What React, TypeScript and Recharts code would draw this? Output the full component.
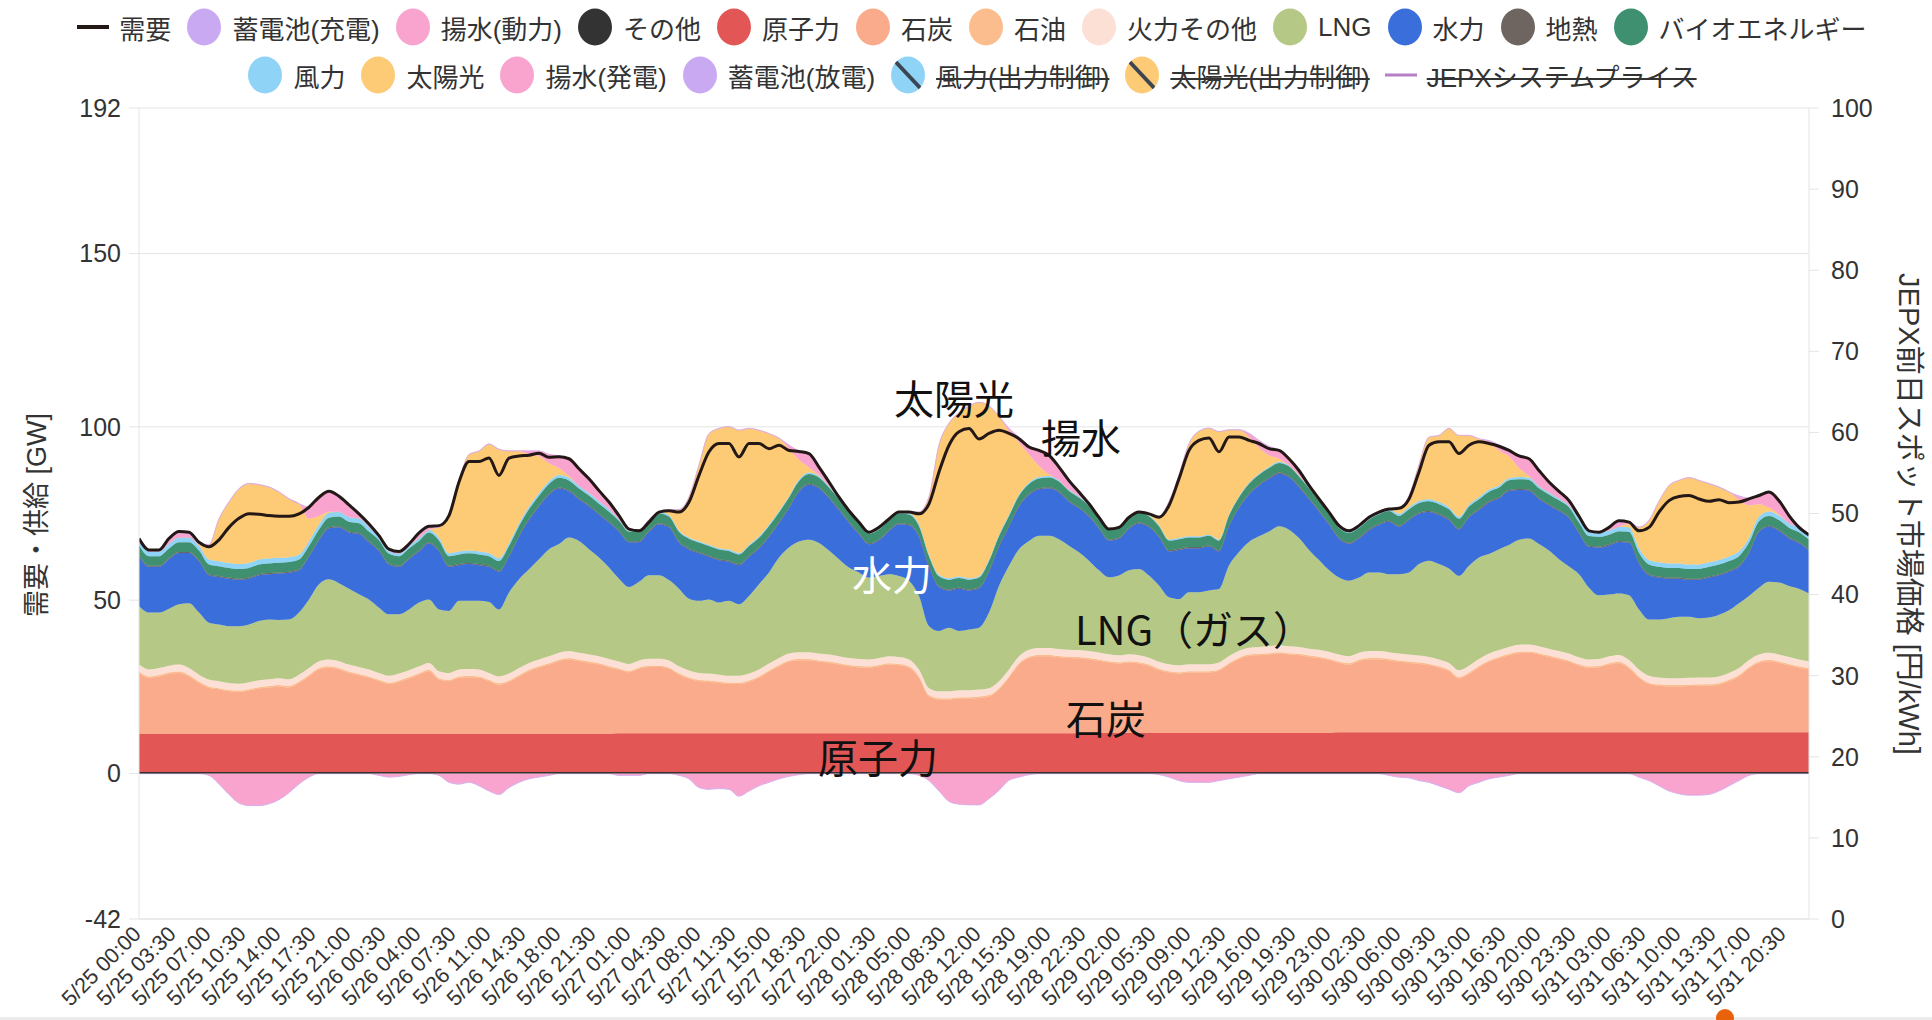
import { Area, CartesianGrid, ComposedChart, Line, XAxis, YAxis } from "recharts";

// Weekly supply/demand stack (GW), hourly readings 5/25 00:00 – 5/31 23:00.
// The x axis runs in half-hour slots so the 3.5 h tick labels land on :30 marks.

const FONT = "'Liberation Sans', Arial, 'Noto Sans CJK JP', sans-serif";
const JP_FONT = "'Noto Sans CJK JP', 'Liberation Sans', sans-serif";

const TICK_LABELS = [
  "5/25 00:00", "5/25 03:30", "5/25 07:00", "5/25 10:30", "5/25 14:00", "5/25 17:30", "5/25 21:00",
  "5/26 00:30", "5/26 04:00", "5/26 07:30", "5/26 11:00", "5/26 14:30", "5/26 18:00", "5/26 21:30",
  "5/27 01:00", "5/27 04:30", "5/27 08:00", "5/27 11:30", "5/27 15:00", "5/27 18:30", "5/27 22:00",
  "5/28 01:30", "5/28 05:00", "5/28 08:30", "5/28 12:00", "5/28 15:30", "5/28 19:00", "5/28 22:30",
  "5/29 02:00", "5/29 05:30", "5/29 09:00", "5/29 12:30", "5/29 16:00", "5/29 19:30", "5/29 23:00",
  "5/30 02:30", "5/30 06:00", "5/30 09:30", "5/30 13:00", "5/30 16:30", "5/30 20:00", "5/30 23:30",
  "5/31 03:00", "5/31 06:30", "5/31 10:00", "5/31 13:30", "5/31 17:00", "5/31 20:30",
];
const SLOTS_PER_TICK = 7;
const LEFT_TICKS = [-42, 0, 50, 100, 150, 192];
const RIGHT_TICKS = [0, 10, 20, 30, 40, 50, 60, 70, 80, 90, 100];

// one row per day, 24 hourly values
const DEMAND = [
  67.8, 64.5, 64.5, 67.8, 69.8, 69.6, 66.7, 65.4, 67.4, 71.0, 73.6, 74.9, 74.8, 74.4, 74.2, 74.2, 74.9, 76.8, 79.7, 81.4, 80.0, 77.5, 74.9, 72.0,
  68.6, 64.7, 64.0, 66.2, 69.4, 71.3, 71.5, 74.4, 84.1, 90.0, 90.0, 91.0, 86.0, 91.0, 91.6, 91.8, 92.4, 91.2, 91.4, 90.8, 87.9, 85.0, 81.6, 78.3,
  74.4, 70.5, 70.0, 72.5, 75.4, 75.8, 75.4, 78.3, 86.0, 92.8, 95.2, 95.2, 91.3, 95.2, 95.2, 93.7, 94.7, 93.2, 92.9, 92.3, 88.4, 84.1, 79.7, 75.8,
  72.5, 69.6, 71.0, 73.4, 75.4, 75.4, 74.9, 77.8, 87.0, 94.7, 98.6, 99.5, 96.5, 98.1, 99.0, 98.1, 96.6, 94.2, 93.2, 91.8, 88.4, 84.5, 81.2, 77.8,
  73.9, 70.5, 71.0, 73.9, 75.4, 74.9, 73.9, 77.3, 85.0, 93.2, 96.1, 96.8, 92.8, 97.1, 97.1, 96.1, 95.2, 93.7, 93.2, 90.8, 87.4, 83.1, 79.2, 75.4,
  71.5, 70.0, 71.5, 73.9, 75.4, 76.3, 76.5, 79.2, 87.0, 94.7, 95.7, 95.7, 92.3, 94.7, 95.7, 95.2, 94.4, 93.2, 91.6, 90.8, 87.4, 84.1, 81.4, 78.7,
  74.2, 70.0, 69.6, 71.0, 72.9, 72.5, 70.0, 71.0, 75.4, 78.7, 79.9, 80.2, 79.2, 78.5, 79.0, 78.1, 78.3, 79.2, 80.2, 81.2, 78.7, 74.4, 71.0, 68.8,
];

const COAL = [
  17.6, 16.2, 16.6, 17.3, 17.6, 16.6, 14.7, 13.3, 12.8, 12.3, 12.1, 12.5, 13.1, 13.4, 13.7, 13.4, 14.7, 16.6, 18.6, 19.1, 18.6, 17.6, 16.9, 16.2,
  15.2, 14.4, 15.0, 16.0, 17.1, 18.1, 15.7, 15.2, 16.2, 16.3, 16.2, 15.2, 14.2, 15.0, 16.6, 18.1, 19.1, 20.0, 21.0, 21.5, 21.0, 20.5, 20.0, 19.2,
  18.3, 17.6, 18.6, 19.1, 19.1, 18.6, 16.9, 15.7, 15.0, 14.8, 14.5, 14.2, 14.2, 14.8, 16.0, 17.7, 19.3, 20.6, 21.0, 21.0, 20.6, 20.3, 19.8, 19.3,
  19.0, 18.9, 19.3, 19.8, 19.6, 18.9, 16.0, 10.6, 9.7, 9.7, 10.0, 10.0, 10.2, 10.6, 12.6, 16.0, 19.8, 21.7, 22.2, 22.2, 21.9, 21.7, 21.6, 21.3,
  20.8, 20.3, 20.0, 20.3, 20.0, 19.3, 18.1, 17.4, 17.1, 17.4, 17.4, 17.4, 17.9, 19.8, 21.3, 22.2, 22.4, 22.6, 22.9, 22.6, 22.4, 21.9, 21.6, 21.0,
  20.0, 19.5, 20.5, 21.0, 21.0, 20.7, 20.3, 20.0, 19.7, 19.3, 18.6, 17.6, 15.5, 16.8, 18.7, 20.3, 21.3, 22.2, 22.8, 22.9, 22.4, 21.7, 21.0, 20.3,
  19.2, 18.6, 18.7, 19.5, 19.9, 18.4, 15.7, 13.9, 13.4, 13.2, 13.2, 13.3, 13.4, 13.4, 13.7, 14.7, 16.1, 18.4, 20.0, 20.5, 20.0, 19.3, 18.6, 18.1,
];

const LNG = [
  16.9, 16.4, 16.0, 16.4, 17.4, 18.7, 17.9, 16.4, 16.4, 16.4, 16.6, 16.7, 17.1, 17.2, 16.8, 17.2, 17.9, 19.8, 22.2, 23.1, 22.5, 21.9, 21.0, 20.2,
  18.8, 17.7, 17.1, 17.5, 18.4, 18.3, 17.8, 17.9, 19.8, 19.7, 19.8, 20.5, 19.3, 23.4, 25.6, 27.0, 28.9, 30.9, 31.4, 32.8, 32.3, 30.4, 28.5, 26.4,
  23.9, 22.2, 22.7, 24.1, 24.1, 23.2, 22.4, 20.7, 20.8, 21.4, 20.8, 21.6, 20.6, 22.4, 24.6, 26.3, 29.0, 30.6, 31.9, 32.4, 31.9, 30.0, 28.0, 26.1,
  25.0, 23.6, 23.7, 23.7, 23.4, 22.7, 21.2, 17.9, 17.4, 18.3, 17.1, 17.5, 17.8, 21.8, 27.5, 29.9, 30.9, 31.4, 32.4, 32.4, 31.7, 30.0, 28.2, 26.1,
  23.7, 22.2, 23.0, 24.2, 24.9, 23.7, 22.0, 19.3, 19.1, 20.8, 20.8, 21.3, 21.2, 26.1, 28.5, 30.5, 31.9, 33.1, 34.3, 33.6, 31.4, 28.5, 25.9, 23.6,
  22.2, 21.8, 21.7, 22.7, 22.7, 22.5, 22.9, 23.7, 26.4, 27.8, 27.5, 27.2, 27.2, 28.8, 29.3, 28.7, 29.1, 29.4, 30.3, 30.6, 29.5, 28.3, 26.5, 25.1,
  24.0, 20.7, 18.4, 17.8, 17.7, 18.7, 17.3, 16.2, 16.7, 17.3, 17.7, 17.6, 17.1, 17.3, 17.8, 18.1, 18.7, 18.5, 19.3, 20.5, 20.8, 20.5, 20.4, 19.5,
];

const HYDRO = [
  14.5, 13.2, 13.2, 14.3, 14.8, 14.5, 14.8, 13.7, 13.7, 13.7, 13.4, 13.2, 13.2, 13.1, 13.4, 13.5, 12.2, 12.3, 12.7, 14.7, 16.1, 16.2, 17.4, 16.5,
  16.4, 14.4, 13.7, 14.5, 14.7, 16.2, 16.8, 12.7, 10.3, 10.6, 10.3, 10.1, 10.9, 10.3, 12.3, 14.2, 15.2, 15.7, 16.0, 13.3, 12.0, 12.4, 12.4, 13.0,
  13.6, 12.9, 11.4, 12.5, 14.7, 15.2, 13.3, 14.2, 13.7, 12.3, 12.2, 11.3, 11.3, 11.3, 10.3, 10.3, 9.9, 11.3, 14.4, 15.9, 15.8, 15.1, 14.2, 12.9,
  11.0, 9.6, 10.3, 12.4, 14.9, 16.0, 17.1, 17.1, 12.7, 10.8, 12.2, 11.3, 11.4, 11.8, 11.3, 11.3, 12.3, 13.3, 13.4, 13.7, 13.5, 12.7, 12.7, 12.7,
  12.0, 10.6, 10.6, 12.0, 13.1, 14.0, 14.0, 13.3, 14.2, 12.7, 12.7, 12.7, 10.9, 11.3, 12.7, 13.7, 14.7, 15.2, 15.2, 15.2, 14.7, 14.7, 14.0, 13.1,
  11.3, 10.7, 11.3, 12.2, 13.7, 15.1, 13.7, 15.1, 14.5, 14.0, 14.2, 14.0, 13.4, 14.0, 13.7, 14.9, 14.7, 15.6, 14.4, 13.8, 13.0, 13.1, 13.9, 14.0,
  11.8, 11.8, 13.8, 14.2, 14.9, 15.2, 13.3, 12.8, 12.1, 11.4, 11.0, 10.7, 11.1, 11.5, 11.4, 11.1, 10.5, 12.3, 16.1, 15.9, 14.9, 13.7, 13.2, 12.5,
];

const SOLAR = [
  0, 0, 0, 0, 0, 0, 0.5, 4.3, 12.2, 17.6, 21.7, 22.9, 21.6, 20.6, 19.0, 16.8, 14.7, 6.5, 2.5, 0.3, 0, 0, 0, 0,
  0, 0, 0, 0, 0, 0, 3.0, 11.5, 20.5, 27.7, 29.0, 31.5, 31.4, 26.6, 20.8, 15.0, 10.6, 5.2, 2.0, 0.5, 0, 0, 0, 0,
  0, 0, 0, 0, 0, 1.5, 6.0, 11.6, 22.0, 32.0, 34.5, 35.4, 35.4, 33.5, 30.6, 26.2, 21.0, 13.7, 5.7, 1.5, 0.3, 0, 0, 0,
  0, 0, 0, 0, 0, 0.3, 3.6, 16.7, 37.4, 44.7, 47.2, 49.7, 50.1, 44.3, 34.1, 24.0, 15.0, 8.1, 3.2, 0.5, 0, 0, 0, 0,
  0, 0, 0, 0, 0, 0.3, 2.5, 10.9, 18.2, 26.7, 30.3, 30.7, 31.1, 24.4, 19.1, 13.2, 7.5, 3.4, 0.9, 0, 0, 0, 0, 0,
  0, 0, 0, 0, 0, 0, 1.5, 3.2, 10.4, 17.9, 19.2, 22.7, 23.4, 19.9, 16.8, 13.6, 10.1, 6.3, 2.6, 0.5, 0, 0, 0, 0,
  0, 0, 0, 0, 0, 1.0, 6.0, 11.4, 17.6, 22.4, 23.9, 25.0, 24.2, 22.7, 21.0, 18.6, 15.0, 9.5, 3.6, 1.1, 0.3, 0, 0, 0,
];

const PUMP_GEN = [
  0, 0, 0, 1.0, 1.2, 1.0, 0, 0, 0, 0, 0, 0, 0, 0, 0, 0, 0, 3.3, 5.4, 5.9, 4.0, 3.0, 0.8, 0.3,
  0, 0, 0, 0, 1.0, 0.5, 0, 0, 0, 0, 0, 0, 0, 0, 0, 1.0, 1.5, 2.5, 3.5, 5.0, 4.5, 3.5, 2.5, 1.5,
  0.8, 0, 0, 0, 0, 0, 0, 0, 0, 0, 0, 0, 0, 0, 0, 0, 0, 1.0, 2.5, 4.0, 2.3, 1.0, 0.2, 0,
  0, 0, 0, 0, 0, 0, 0, 0, 0, 0, 0, 0, 0, 0, 0, 0.8, 1.5, 2.5, 4.5, 5.5, 3.3, 2.1, 0.8, 0.2,
  0, 0, 0, 0, 0, 0, 0, 0, 0, 0, 0, 0, 0, 0, 0, 1.0, 2.0, 2.5, 2.5, 1.9, 1.0, 0.3, 0, 0,
  0, 0, 0, 0, 0, 0, 0, 0, 0, 0, 0, 0, 0, 0, 0, 0.5, 1.5, 2.0, 3.5, 5.0, 4.0, 2.5, 1.5, 0.8,
  0, 0, 0, 0.8, 1.2, 0.5, 0, 0, 0, 0, 0, 0, 0, 0, 0, 0, 1.0, 2.0, 2.5, 4.5, 4.0, 2.2, 0.5, 0.3,
];

// pumping load, drawn below zero
const PUMP_USE = [
  0, 0, 0, 0, 0, 0, 0, -0.5, -3.0, -6.0, -8.5, -9.2, -9.2, -8.7, -7.5, -5.5, -3.0, -1.0, 0, 0, 0, 0, 0, 0,
  -0.5, -1.0, -0.8, -0.3, 0, 0, -0.5, -2.5, -3.0, -2.5, -3.5, -5.0, -6.0, -4.0, -2.5, -1.5, -1.0, -0.5, 0, 0, 0, 0, 0, 0,
  -0.5, -0.5, -0.5, 0, 0, 0, -0.5, -1.5, -4.0, -4.5, -4.3, -4.5, -6.5, -5.0, -3.5, -2.5, -1.5, -0.8, -0.3, 0, 0, 0, 0, 0,
  0, 0, 0, 0, 0, 0, -0.5, -2.0, -5.0, -8.0, -8.8, -9.0, -9.0, -7.2, -4.8, -1.9, -1.0, -0.3, 0, 0, 0, 0, 0, 0,
  0, 0, 0, 0, 0, 0, -0.3, -1.0, -2.0, -2.5, -2.5, -2.5, -2.0, -1.5, -1.0, -0.5, 0, 0, 0, 0, 0, 0, 0, 0,
  0, 0, 0, 0, 0, -0.5, -1.0, -1.2, -2.0, -2.5, -3.5, -4.5, -5.5, -3.5, -2.5, -1.5, -1.0, -0.5, 0, 0, 0, 0, 0, 0,
  0, 0, 0, 0, 0, 0, -1.0, -2.0, -3.5, -5.0, -5.8, -6.2, -6.2, -6.0, -5.0, -3.5, -2.0, -0.5, 0, 0, 0, 0, 0, 0,
];

// thin, nearly flat bands: one reading per day or for the whole week
const NUCLEAR_BY_DAY = [11.0, 11.0, 11.2, 11.2, 11.3, 11.5, 11.5];
const WIND_BY_DAY = [1.4, 0.8, 0.4, 0.4, 0.3, 0.6, 1.3];
const OTHER_GW = 0.4;
const OIL_GW = 0.4;
const THERMAL_OTHER_GW = 2.0;
const GEOTHERMAL_GW = 0.3;
const BIOMASS_GW = 2.8;
const BATTERY_CHARGE_GW = -0.1;
const BATTERY_DISCHARGE_GW = 0.1;

const C = {
  demand: "#231815",
  battery: "#c9a9f1",
  pump: "#f9a3cf",
  other: "#333333",
  nuclear: "#e35656",
  coal: "#f9ab8c",
  oil: "#fcbd8e",
  thermalOther: "#fde0d5",
  lng: "#b5c886",
  hydro: "#3a6fdb",
  geothermal: "#6e6560",
  biomass: "#3f8f71",
  wind: "#8fd3f6",
  solar: "#fdca75",
  jepx: "#b57fc5",
};

const NEG_STACK = [
  { key: "pumpUse", color: C.pump },
  { key: "battCharge", color: C.battery },
];
const POS_STACK = [
  { key: "other", color: C.other },
  { key: "nuclear", color: C.nuclear },
  { key: "coal", color: C.coal },
  { key: "oil", color: C.oil },
  { key: "thermalOther", color: C.thermalOther },
  { key: "lng", color: C.lng },
  { key: "hydro", color: C.hydro },
  { key: "geothermal", color: C.geothermal },
  { key: "biomass", color: C.biomass },
  { key: "wind", color: C.wind },
  { key: "solar", color: C.solar },
  { key: "pumpGen", color: C.pump },
  { key: "battDischarge", color: C.battery },
];

type LegendItem = { name: string; color: string; kind: "line" | "dot" | "hatch"; off?: boolean };

const LEGEND_ROW_1: LegendItem[] = [
  { name: "需要", color: C.demand, kind: "line" },
  { name: "蓄電池(充電)", color: C.battery, kind: "dot" },
  { name: "揚水(動力)", color: C.pump, kind: "dot" },
  { name: "その他", color: C.other, kind: "dot" },
  { name: "原子力", color: C.nuclear, kind: "dot" },
  { name: "石炭", color: C.coal, kind: "dot" },
  { name: "石油", color: C.oil, kind: "dot" },
  { name: "火力その他", color: C.thermalOther, kind: "dot" },
  { name: "LNG", color: C.lng, kind: "dot" },
  { name: "水力", color: C.hydro, kind: "dot" },
  { name: "地熱", color: C.geothermal, kind: "dot" },
  { name: "バイオエネルギー", color: C.biomass, kind: "dot" },
];
const LEGEND_ROW_2: LegendItem[] = [
  { name: "風力", color: C.wind, kind: "dot" },
  { name: "太陽光", color: C.solar, kind: "dot" },
  { name: "揚水(発電)", color: C.pump, kind: "dot" },
  { name: "蓄電池(放電)", color: C.battery, kind: "dot" },
  { name: "風力(出力制御)", color: C.wind, kind: "hatch", off: true },
  { name: "太陽光(出力制御)", color: C.solar, kind: "hatch", off: true },
  { name: "JEPXシステムプライス", color: C.jepx, kind: "line", off: true },
];

const ANNOTATIONS = [
  { text: "太陽光", x: 954, y: 397, color: "#111" },
  { text: "揚水", x: 1081, y: 436, color: "#111" },
  { text: "水力", x: 892, y: 573, color: "#fff" },
  { text: "LNG（ガス）", x: 1194, y: 628, color: "#111" },
  { text: "石炭", x: 1106, y: 717, color: "#111" },
  { text: "原子力", x: 878, y: 756, color: "#111" },
];

const rows = DEMAND.map((demand, h) => {
  const day = Math.floor(h / 24);
  return {
    slot: h * 2,
    demand,
    pumpUse: PUMP_USE[h],
    battCharge: BATTERY_CHARGE_GW,
    other: OTHER_GW,
    nuclear: NUCLEAR_BY_DAY[day],
    coal: COAL[h],
    oil: OIL_GW,
    thermalOther: THERMAL_OTHER_GW,
    lng: LNG[h],
    hydro: HYDRO[h],
    geothermal: GEOTHERMAL_GW,
    biomass: BIOMASS_GW,
    wind: WIND_BY_DAY[day],
    solar: SOLAR[h],
    pumpGen: PUMP_GEN[h],
    battDischarge: BATTERY_DISCHARGE_GW,
  };
});

const tickSlots = TICK_LABELS.map((_, k) => k * SLOTS_PER_TICK);

function SlotTick({ x, y, payload }: any) {
  const label = TICK_LABELS[Math.round(payload.value / SLOTS_PER_TICK)];
  return (
    <g transform={`translate(${x - 8},${y - 3})`}>
      <text
        x={0}
        y={0}
        dy={16}
        textAnchor="end"
        transform="rotate(-45)"
        fill="#333"
        fontSize={21.5}
        fontFamily={FONT}
      >
        {label}
      </text>
    </g>
  );
}

function Marker({ item, id }: { item: LegendItem; id: string }) {
  if (item.kind === "line") {
    return (
      <svg width={32} height={38}>
        <line x1={0} y1={19} x2={32} y2={19} stroke={item.color} strokeWidth={item.off ? 3 : 4} />
      </svg>
    );
  }
  return (
    <svg width={36} height={38}>
      <defs>
        <clipPath id={id}>
          <ellipse cx={18} cy={19} rx={17} ry={18.5} />
        </clipPath>
      </defs>
      <ellipse cx={18} cy={19} rx={17} ry={18.5} fill={item.color} />
      {item.kind === "hatch" && (
        <line x1={3} y1={3} x2={33} y2={35} stroke="#3b4652" strokeWidth={4} clipPath={`url(#${id})`} />
      )}
    </svg>
  );
}

function LegendRow({ items, row }: { items: LegendItem[]; row: number }) {
  return (
    <div style={{ display: "flex", alignItems: "center", gap: 15, height: 38 }}>
      {items.map((item, i) => (
        <div key={item.name} style={{ display: "flex", alignItems: "center", gap: 10 }}>
          <Marker item={item} id={`lg-${row}-${i}`} />
          <span
            style={{
              fontSize: 26,
              color: "#333",
              whiteSpace: "nowrap",
              textDecoration: item.off ? "line-through" : "none",
              textDecorationThickness: 2,
            }}
          >
            {item.name}
          </span>
        </div>
      ))}
    </div>
  );
}

export default function App() {
  return (
    <div
      style={{
        position: "absolute",
        left: 0,
        top: 0,
        width: 1932,
        height: 1020,
        background: "#fff",
        overflow: "hidden",
        fontFamily: FONT,
      }}
    >
      <div
        style={{
          position: "absolute",
          left: 0,
          top: 8,
          width: 1944,
          display: "flex",
          flexDirection: "column",
          alignItems: "center",
          gap: 10,
        }}
      >
        <LegendRow items={LEGEND_ROW_1} row={1} />
        <LegendRow items={LEGEND_ROW_2} row={2} />
      </div>

      <ComposedChart
        width={1932}
        height={1020}
        data={rows}
        margin={{ top: 108, right: 63, bottom: 1, left: 79 }}
        style={{ position: "absolute", left: 0, top: 0 }}
      >
        <CartesianGrid yAxisId="left" vertical={false} stroke="#e4e4e4" />
        <XAxis
          type="number"
          dataKey="slot"
          domain={[0, 334]}
          ticks={tickSlots}
          interval={0}
          tick={(p: any) => <SlotTick {...p} />}
          tickLine={false}
          axisLine={{ stroke: "#e4e4e4" }}
          height={100}
          allowDataOverflow
        />
        <YAxis
          yAxisId="left"
          domain={[-42, 192]}
          ticks={LEFT_TICKS}
          interval={0}
          allowDataOverflow
          width={60}
          tickSize={10}
          tickMargin={8}
          tick={{ fill: "#333", fontSize: 25, fontFamily: FONT }}
          tickLine={{ stroke: "#e4e4e4" }}
          axisLine={{ stroke: "#e4e4e4" }}
        />
        <YAxis
          yAxisId="right"
          orientation="right"
          type="number"
          domain={[0, 100]}
          ticks={RIGHT_TICKS}
          interval={0}
          allowDataOverflow
          width={60}
          tickSize={10}
          tickMargin={12}
          tick={{ fill: "#333", fontSize: 25, fontFamily: FONT }}
          tickLine={{ stroke: "#e4e4e4" }}
          axisLine={{ stroke: "#e4e4e4" }}
        />
        {NEG_STACK.map((s) => (
          <Area
            key={s.key}
            yAxisId="left"
            dataKey={s.key}
            stackId="neg"
            type="monotone"
            fill={s.color}
            fillOpacity={1}
            stroke={s.color}
            strokeWidth={0.5}
            isAnimationActive={false}
          />
        ))}
        {POS_STACK.map((s) => (
          <Area
            key={s.key}
            yAxisId="left"
            dataKey={s.key}
            stackId="pos"
            type="monotone"
            fill={s.color}
            fillOpacity={1}
            stroke={s.color}
            strokeWidth={0.5}
            isAnimationActive={false}
          />
        ))}
        <Line
          yAxisId="left"
          dataKey="demand"
          type="monotone"
          stroke={C.demand}
          strokeWidth={3}
          dot={false}
          isAnimationActive={false}
        />
        <Line
          yAxisId="right"
          dataKey="jepx"
          stroke={C.jepx}
          dot={false}
          isAnimationActive={false}
        />
      </ComposedChart>

      {ANNOTATIONS.map((a) => (
        <div
          key={a.text}
          style={{
            position: "absolute",
            left: a.x,
            top: a.y,
            transform: "translate(-50%, -50%)",
            fontFamily: JP_FONT,
            fontSize: 40,
            lineHeight: 1,
            color: a.color,
            whiteSpace: "nowrap",
          }}
        >
          {a.text}
        </div>
      ))}

      <div
        style={{
          position: "absolute",
          left: 34,
          top: 515,
          transform: "translate(-50%, -50%) rotate(-90deg)",
          fontSize: 27,
          color: "#333",
          whiteSpace: "nowrap",
        }}
      >
        需要・供給 [GW]
      </div>
      <div
        style={{
          position: "absolute",
          left: 1912,
          top: 514,
          transform: "translate(-50%, -50%) rotate(90deg)",
          fontSize: 29,
          color: "#333",
          whiteSpace: "nowrap",
        }}
      >
        JEPX前日スポット市場価格 [円/kWh]
      </div>

      <div style={{ position: "absolute", left: 0, top: 1017, width: 1932, height: 3, background: "#ececec" }} />
      <div
        style={{
          position: "absolute",
          left: 1716,
          top: 1009,
          width: 18,
          height: 18,
          borderRadius: 9,
          background: "#e8620c",
        }}
      />
    </div>
  );
}
